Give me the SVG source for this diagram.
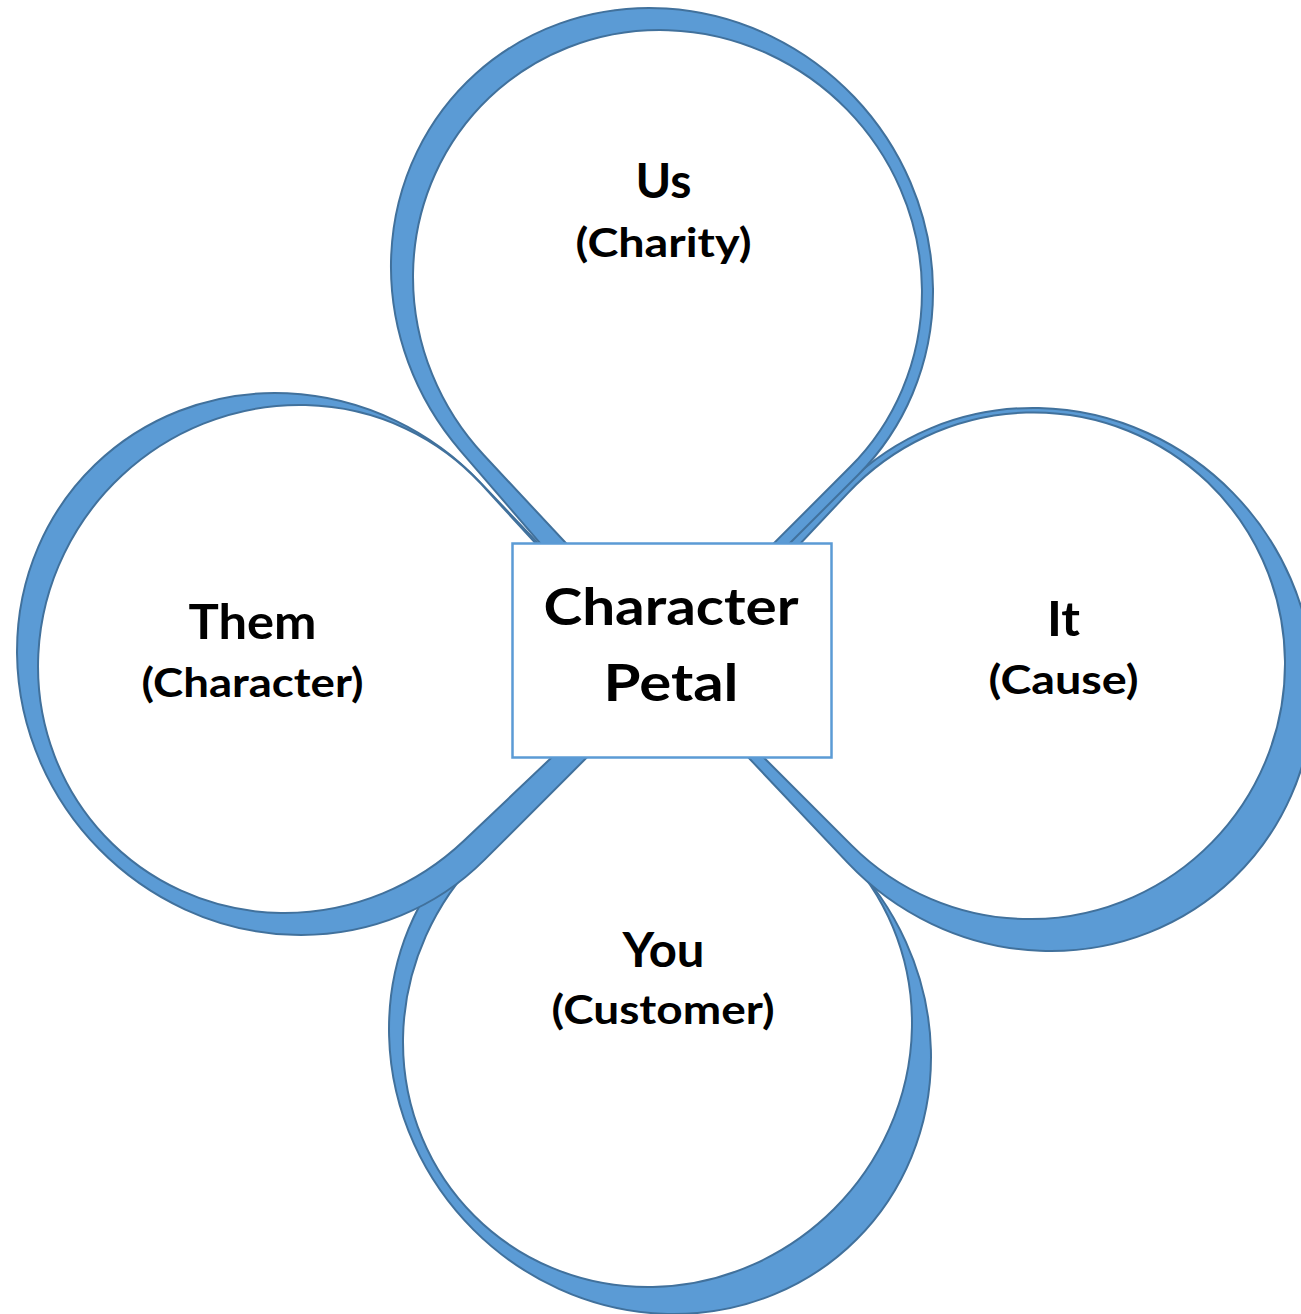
<svg xmlns="http://www.w3.org/2000/svg" width="1301" height="1314" viewBox="0 0 1301 1314">
  <defs>
    <style>
      .band { fill: #5B9BD5; stroke: #41719C; stroke-width: 2; vector-effect: non-scaling-stroke; stroke-linejoin: round; }
      .face { fill: #FFFFFF; stroke: #41719C; stroke-width: 2; vector-effect: non-scaling-stroke; stroke-linejoin: round; }
      .hub { fill: #FFFFFF; stroke: #5B9BD5; stroke-width: 2.5; }
      .lbl { font-family: Lato, "Open Sans", "Liberation Sans", sans-serif; font-weight: bold; fill: #000000; text-anchor: middle; }
      .l1 { font-size: 47px; }
      .l2 { font-size: 41px; }
      .lc { font-size: 52px; }
    </style>
  </defs>

  <rect x="0" y="0" width="1301" height="1314" fill="#FFFFFF"/>

  <!-- each petal: a blue teardrop with a white teardrop laid on it; drawn in unit space, placed by transform -->
  <g id="petal-you">
    <path class="band" transform="translate(660 1043) rotate(-45) scale(263.9 277.9)" d="M1 -1 L1 0 A1 1 0 1 1 0 -1 Z"/>
    <path class="face" transform="translate(657.5 1032.5) rotate(-45) scale(259.2 249.7)" d="M1 -1 L1 0 A1 1 0 1 1 0 -1 Z"/>
    <text class="lbl l1" x="663.5" y="967" textLength="82" lengthAdjust="spacingAndGlyphs">You</text>
    <text class="lbl l2" x="663" y="1024" textLength="223" lengthAdjust="spacingAndGlyphs">(Customer)</text>
  </g>

  <g id="petal-them">
    <path class="band" transform="translate(288 664) rotate(45) scale(277.4 264.4)" d="M1 -0.975 L1 0 A1 1 0 1 1 0.025 -0.9997 Z"/>
    <path class="face" transform="translate(292 659) rotate(45) scale(250.2 257.7)" d="M1.026 -0.959 L0.9996 0.027 A1 1 0 1 1 0.041 -0.9992 Z"/>
    <text class="lbl l1" x="252.5" y="639" textLength="128" lengthAdjust="spacingAndGlyphs">Them</text>
    <text class="lbl l2" x="252.5" y="697" textLength="222" lengthAdjust="spacingAndGlyphs">(Character)</text>
  </g>

  <g id="petal-it">
    <path class="band" transform="translate(1042 679.5) rotate(225) scale(276 267)" d="M1 -0.971 L1 0 A1 1 0 1 1 0.029 -0.9996 Z"/>
    <path class="face" transform="translate(1031.7 665.8) rotate(225) scale(252.3 254.3)" d="M0.9695 -1 L0.9995 -0.031 A1 1 0 1 1 0 -1 Z"/>
    <text class="lbl l1" x="1063.5" y="636" textLength="33" lengthAdjust="spacingAndGlyphs">It</text>
    <text class="lbl l2" x="1063.5" y="694" textLength="150" lengthAdjust="spacingAndGlyphs">(Cause)</text>
  </g>

  <g id="petal-us">
    <path class="band" transform="translate(662 279) rotate(135) scale(264.7 277.2)" d="M1.081 -1 L0.997 0.078 A1 1 0 1 1 0 -1 Z"/>
    <path class="face" transform="translate(667.5 284.5) rotate(135) scale(250.7 258.2)" d="M1.036 -1 L0.9994 0.035 A1 1 0 1 1 0 -1 Z"/>
    <text class="lbl l1" x="663.5" y="198" textLength="56" lengthAdjust="spacingAndGlyphs">Us</text>
    <text class="lbl l2" x="663.5" y="257" textLength="176" lengthAdjust="spacingAndGlyphs">(Charity)</text>
  </g>

  <g id="connectors"></g>

  <g id="hub">
    <rect class="hub" x="512.5" y="543.5" width="319" height="214"/>
    <text class="lbl lc" x="671" y="625" textLength="255" lengthAdjust="spacingAndGlyphs">Character</text>
    <text class="lbl lc" x="671" y="701" textLength="135" lengthAdjust="spacingAndGlyphs">Petal</text>
  </g>
</svg>
